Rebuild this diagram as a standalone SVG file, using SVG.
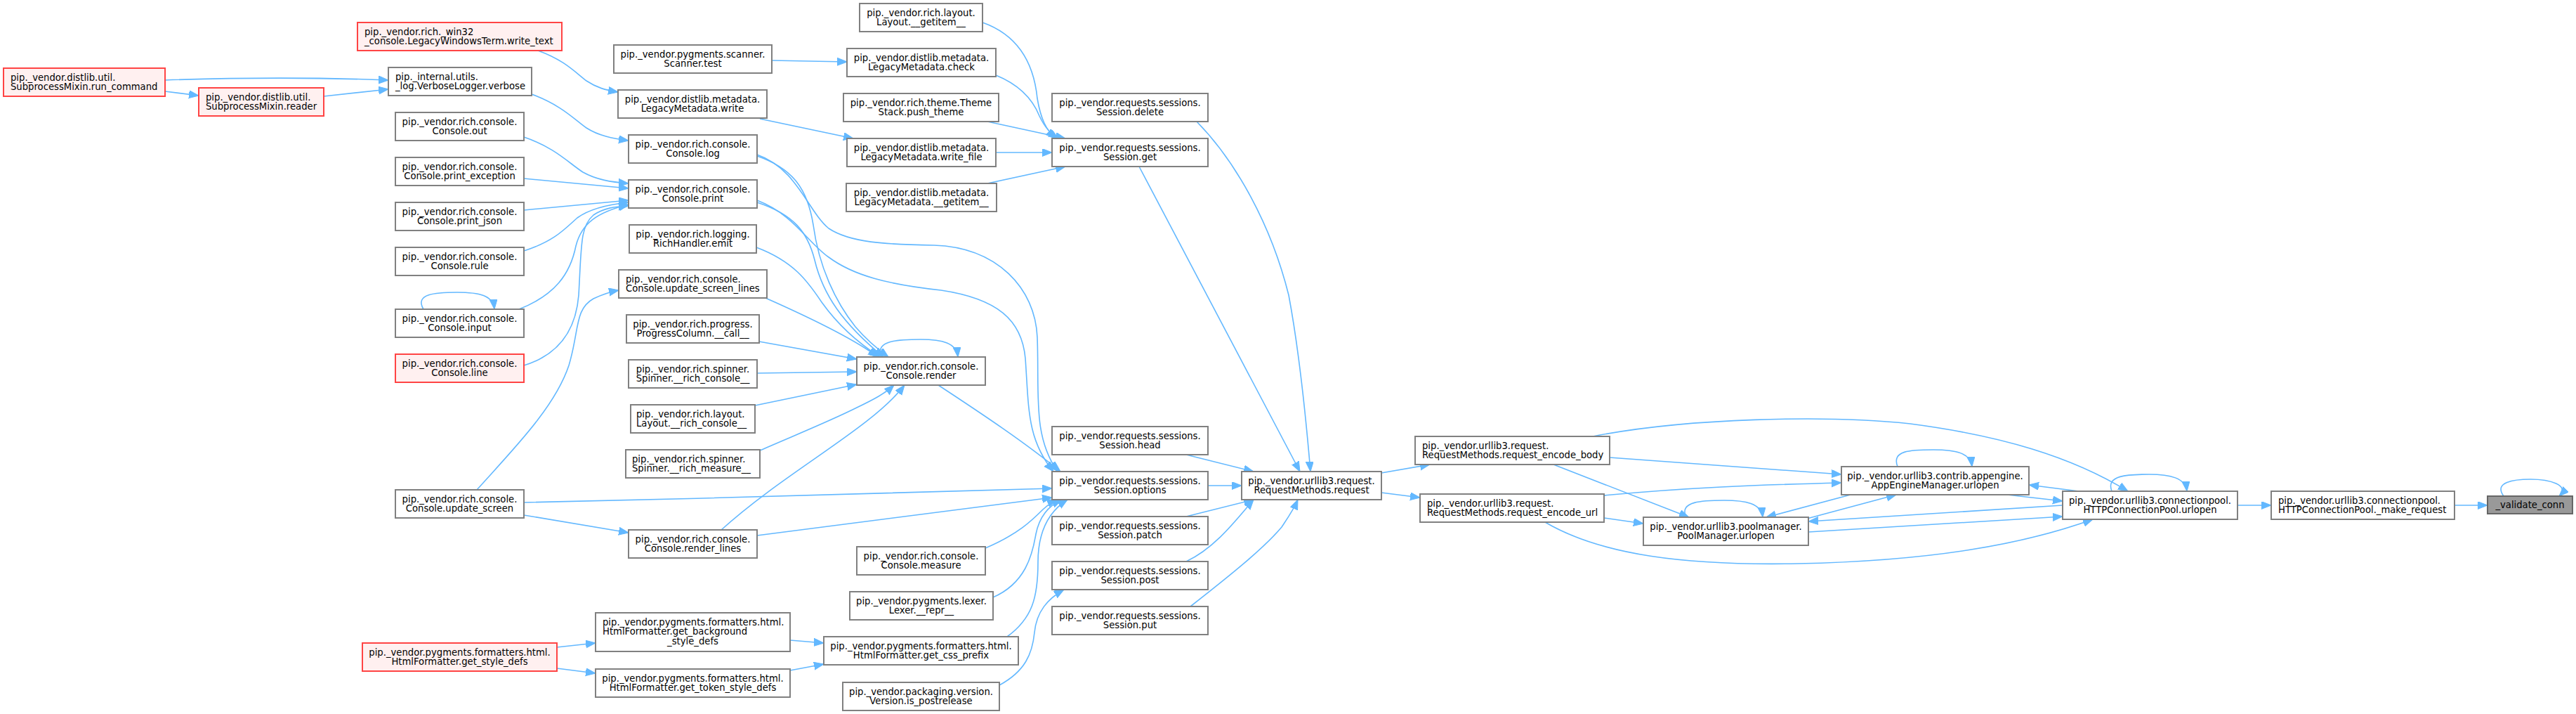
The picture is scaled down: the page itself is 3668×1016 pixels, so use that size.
<svg xmlns="http://www.w3.org/2000/svg" width="3668" height="1016" viewBox="0 0 3668 1016">
<style>
.w rect{fill:#ffffff;stroke:#808080;stroke-width:2}
.r rect{fill:#fff0f0;stroke:#ff4444;stroke-width:2}
.g rect{fill:#999999;stroke:#666666;stroke-width:2}
text{font-family:"DejaVu Sans","Liberation Sans",sans-serif;font-size:13.2px;fill:#000}
.c{text-anchor:middle}
.l{text-anchor:start}
#edges path{fill:none;stroke:#63b8ff;stroke-width:1.6;marker-end:url(#ah)}
</style>
<defs>
<marker id="ah" markerUnits="userSpaceOnUse" markerWidth="15" markerHeight="12" refX="14" refY="5.5" orient="auto"><path d="M0,0 L14,5.5 L0,11 z" fill="#63b8ff" stroke="#63b8ff" stroke-width="1"/></marker>
</defs>
<rect x="0" y="0" width="3668" height="1016" fill="#ffffff"/>
<g id="edges">
<path d="M235,114 C350,110 450,110 553,114"/>
<path d="M235,130 L283,136"/>
<path d="M461,137 L553,127"/>
<path d="M766,72 C805,86 820,104 835,115 C850,125 862,128 880,131"/>
<path d="M757,134 C800,150 818,170 835,182 C852,193 872,197 895,200"/>
<path d="M746,195 C790,210 810,232 830,245 C850,256 870,259 895,261"/>
<path d="M746,254 L895,268"/>
<path d="M746,299 L895,285"/>
<path d="M746,357 C790,343 805,325 822,310 C840,297 865,291 895,288"/>
<path d="M739,440 C790,420 812,390 820,350 C828,318 850,302 895,291"/>
<path d="M746,520 C795,505 820,470 824,420 C828,350 826,322 845,306 C860,296 875,294 895,293"/>
<path d="M679,697 C730,640 790,580 810,520 C825,470 818,440 845,425 C860,418 870,415 881,413"/>
<path d="M746,715 C1000,710 1300,700 1498,695"/>
<path d="M746,733 L895,758"/>
<path d="M1078,220 C1135,240 1150,300 1180,325 C1210,345 1260,348 1330,349 C1420,352 1474,410 1477,480 C1480,560 1470,620 1506,671"/>
<path d="M1078,285 C1130,305 1150,345 1180,366 C1215,392 1265,405 1340,413 C1420,425 1455,455 1460,510 C1465,580 1462,625 1500,671"/>
<path d="M1078,222 C1130,240 1150,270 1158,320 C1166,380 1190,430 1218,465 C1235,485 1250,497 1265,508"/>
<path d="M1078,288 C1130,305 1150,330 1160,370 C1172,420 1200,460 1258,508"/>
<path d="M1077,352 C1130,372 1150,400 1170,430 C1195,465 1225,490 1253,508"/>
<path d="M1090,424 C1160,455 1220,485 1250,508"/>
<path d="M1081,486 L1220,511"/>
<path d="M1078,531 L1220,529"/>
<path d="M1075,577 L1220,547"/>
<path d="M1082,641 C1130,620 1180,600 1220,580 C1245,568 1260,560 1273,548"/>
<path d="M1027,754 C1120,670 1240,610 1288,548"/>
<path d="M1078,762 L1498,708"/>
<path d="M1336,548 C1400,590 1460,630 1510,671"/>
<path d="M1403,780 C1450,760 1470,740 1485,725 C1495,716 1500,713 1505,711"/>
<path d="M1414,850 C1460,830 1470,790 1475,760 C1480,735 1492,720 1512,711"/>
<path d="M1434,906 C1470,880 1478,850 1478,800 C1478,760 1490,730 1520,711"/>
<path d="M1423,975 C1460,955 1470,930 1473,900 C1476,870 1492,852 1515,839"/>
<path d="M1125,911 L1173,915"/>
<path d="M1125,954 L1173,945"/>
<path d="M793,921 L848,915"/>
<path d="M793,951 L848,958"/>
<path d="M1099,86 L1206,88"/>
<path d="M1082,169 L1215,197"/>
<path d="M1399,32 C1450,50 1472,90 1477,140 C1482,170 1490,185 1503,197"/>
<path d="M1418,107 C1450,120 1470,140 1480,165 C1488,182 1496,190 1507,197"/>
<path d="M1406,173 L1517,197"/>
<path d="M1418,217 L1498,217"/>
<path d="M1406,261 L1517,237"/>
<path d="M1704,173 C1760,230 1810,320 1835,420 C1850,500 1860,600 1866,671"/>
<path d="M1622,237 L1851,671"/>
<path d="M1689,647 L1785,671"/>
<path d="M1720,691 L1768,691"/>
<path d="M1689,735 L1785,711"/>
<path d="M1689,799 C1730,780 1760,740 1785,711"/>
<path d="M1695,863 C1750,820 1800,780 1825,750 C1835,735 1842,725 1848,711"/>
<path d="M1967,673 L2036,661"/>
<path d="M1967,701 L2022,708"/>
<path d="M2292,651 L2622,675"/>
<path d="M2212,661 L2405,736"/>
<path d="M2268,621 C2400,595 2600,590 2720,603 C2850,620 2950,650 3030,699"/>
<path d="M2284,705 C2400,694 2500,690 2622,687"/>
<path d="M2284,737 L2340,745"/>
<path d="M2200,743 C2280,790 2400,805 2560,802 C2750,798 2880,775 2980,739"/>
<path d="M2635,704 L2515,736"/>
<path d="M2573,738 L2700,704"/>
<path d="M2858,704 L2937,713"/>
<path d="M2960,699 L2889,690"/>
<path d="M2937,719 L2575,742"/>
<path d="M2575,757 L2937,735"/>
<path d="M3186,719 L3234,719"/>
<path d="M3495,719 L3542,719"/>
<path d="M603,440 C590,418 620,416 651,416 C682,416 702,420 704,440"/>
<path d="M1255,508 C1245,484 1280,483 1311,483 C1342,483 1362,488 1364,508"/>
<path d="M2401,736 C2390,713 2425,712 2455,712 C2485,712 2508,716 2510,736"/>
<path d="M2702,664 C2693,641 2720,640 2753,640 C2786,640 2806,645 2808,664"/>
<path d="M3007,699 C2998,676 3030,675 3060,675 C3090,675 3112,680 3114,699"/>
<path d="M3565,706 C3550,686 3580,682 3603,682 C3630,682 3660,690 3644,706"/>
</g>
<g id="n_write_text" class="r"><rect x="509" y="32" width="291" height="40"/><text class="l" x="519" y="49.5">pip._vendor.rich._win32</text><text class="l" x="519" y="63">_console.LegacyWindowsTerm.write_text</text></g>
<g id="n_run_command" class="r"><rect x="5" y="97" width="230" height="40"/><text class="l" x="15" y="114.5">pip._vendor.distlib.util.</text><text class="l" x="15" y="128">SubprocessMixin.run_command</text></g>
<g id="n_reader" class="r"><rect x="283" y="125" width="178" height="40"/><text class="l" x="293" y="142.5">pip._vendor.distlib.util.</text><text class="l" x="293" y="156">SubprocessMixin.reader</text></g>
<g id="n_verbose" class="w"><rect x="553" y="96" width="204" height="40"/><text class="l" x="563" y="113.5">pip._internal.utils.</text><text class="l" x="563" y="127">_log.VerboseLogger.verbose</text></g>
<g id="n_out" class="w"><rect x="563" y="160" width="183" height="40"/><text class="c" x="654.5" y="177.5">pip._vendor.rich.console.</text><text class="c" x="654.5" y="191">Console.out</text></g>
<g id="n_print_exception" class="w"><rect x="563" y="224" width="183" height="40"/><text class="c" x="654.5" y="241.5">pip._vendor.rich.console.</text><text class="c" x="654.5" y="255">Console.print_exception</text></g>
<g id="n_print_json" class="w"><rect x="563" y="288" width="183" height="40"/><text class="c" x="654.5" y="305.5">pip._vendor.rich.console.</text><text class="c" x="654.5" y="319">Console.print_json</text></g>
<g id="n_rule" class="w"><rect x="563" y="352" width="183" height="40"/><text class="c" x="654.5" y="369.5">pip._vendor.rich.console.</text><text class="c" x="654.5" y="383">Console.rule</text></g>
<g id="n_input" class="w"><rect x="563" y="440" width="183" height="40"/><text class="c" x="654.5" y="457.5">pip._vendor.rich.console.</text><text class="c" x="654.5" y="471">Console.input</text></g>
<g id="n_line" class="r"><rect x="563" y="504" width="183" height="40"/><text class="c" x="654.5" y="521.5">pip._vendor.rich.console.</text><text class="c" x="654.5" y="535">Console.line</text></g>
<g id="n_update_screen" class="w"><rect x="563" y="697" width="183" height="40"/><text class="c" x="654.5" y="714.5">pip._vendor.rich.console.</text><text class="c" x="654.5" y="728">Console.update_screen</text></g>
<g id="n_get_style_defs" class="r"><rect x="516" y="915" width="277" height="40"/><text class="c" x="654.5" y="932.5">pip._vendor.pygments.formatters.html.</text><text class="c" x="654.5" y="946">HtmlFormatter.get_style_defs</text></g>
<g id="n_scanner_test" class="w"><rect x="874" y="64" width="225" height="40"/><text class="c" x="986.5" y="81.5">pip._vendor.pygments.scanner.</text><text class="c" x="986.5" y="95">Scanner.test</text></g>
<g id="n_lm_write" class="w"><rect x="880" y="128" width="212" height="40"/><text class="c" x="986" y="145.5">pip._vendor.distlib.metadata.</text><text class="c" x="986" y="159">LegacyMetadata.write</text></g>
<g id="n_log" class="w"><rect x="895" y="192" width="183" height="40"/><text class="c" x="986.5" y="209.5">pip._vendor.rich.console.</text><text class="c" x="986.5" y="223">Console.log</text></g>
<g id="n_print" class="w"><rect x="895" y="256" width="183" height="40"/><text class="c" x="986.5" y="273.5">pip._vendor.rich.console.</text><text class="c" x="986.5" y="287">Console.print</text></g>
<g id="n_emit" class="w"><rect x="896" y="320" width="181" height="40"/><text class="c" x="986.5" y="337.5">pip._vendor.rich.logging.</text><text class="c" x="986.5" y="351">RichHandler.emit</text></g>
<g id="n_update_screen_lines" class="w"><rect x="881" y="384" width="211" height="40"/><text class="l" x="891" y="401.5">pip._vendor.rich.console.</text><text class="l" x="891" y="415">Console.update_screen_lines</text></g>
<g id="n_progress_call" class="w"><rect x="892" y="448" width="189" height="40"/><text class="c" x="986.5" y="465.5">pip._vendor.rich.progress.</text><text class="c" x="986.5" y="479">ProgressColumn.__call__</text></g>
<g id="n_spinner_rc" class="w"><rect x="895" y="512" width="183" height="40"/><text class="c" x="986.5" y="529.5">pip._vendor.rich.spinner.</text><text class="c" x="986.5" y="543">Spinner.__rich_console__</text></g>
<g id="n_layout_rc" class="w"><rect x="898" y="576" width="177" height="40"/><text class="l" x="906" y="593.5">pip._vendor.rich.layout.</text><text class="l" x="906" y="607">Layout.__rich_console__</text></g>
<g id="n_spinner_rm" class="w"><rect x="891" y="640" width="191" height="40"/><text class="l" x="900" y="657.5">pip._vendor.rich.spinner.</text><text class="l" x="900" y="671">Spinner.__rich_measure__</text></g>
<g id="n_render_lines" class="w"><rect x="895" y="754" width="183" height="40"/><text class="c" x="986.5" y="771.5">pip._vendor.rich.console.</text><text class="c" x="986.5" y="785">Console.render_lines</text></g>
<g id="n_bg_style_defs" class="w"><rect x="848" y="872" width="277" height="55"/><text class="l" x="858" y="889.5">pip._vendor.pygments.formatters.html.</text><text class="l" x="858" y="903">HtmlFormatter.get_background</text><text class="c" x="986.5" y="916.5">_style_defs</text></g>
<g id="n_token_style_defs" class="w"><rect x="848" y="952" width="277" height="40"/><text class="c" x="986.5" y="969.5">pip._vendor.pygments.formatters.html.</text><text class="c" x="986.5" y="983">HtmlFormatter.get_token_style_defs</text></g>
<g id="n_layout_getitem" class="w"><rect x="1224" y="5" width="175" height="40"/><text class="c" x="1311.5" y="22.5">pip._vendor.rich.layout.</text><text class="c" x="1311.5" y="36">Layout.__getitem__</text></g>
<g id="n_lm_check" class="w"><rect x="1206" y="69" width="212" height="40"/><text class="c" x="1312" y="86.5">pip._vendor.distlib.metadata.</text><text class="c" x="1312" y="100">LegacyMetadata.check</text></g>
<g id="n_push_theme" class="w"><rect x="1201" y="133" width="221" height="40"/><text class="c" x="1311.5" y="150.5">pip._vendor.rich.theme.Theme</text><text class="c" x="1311.5" y="164">Stack.push_theme</text></g>
<g id="n_lm_write_file" class="w"><rect x="1206" y="197" width="212" height="40"/><text class="c" x="1312" y="214.5">pip._vendor.distlib.metadata.</text><text class="c" x="1312" y="228">LegacyMetadata.write_file</text></g>
<g id="n_lm_getitem" class="w"><rect x="1205" y="261" width="214" height="40"/><text class="c" x="1312" y="278.5">pip._vendor.distlib.metadata.</text><text class="c" x="1312" y="292">LegacyMetadata.__getitem__</text></g>
<g id="n_render" class="w"><rect x="1220" y="508" width="183" height="40"/><text class="c" x="1311.5" y="525.5">pip._vendor.rich.console.</text><text class="c" x="1311.5" y="539">Console.render</text></g>
<g id="n_measure" class="w"><rect x="1220" y="778" width="183" height="40"/><text class="c" x="1311.5" y="795.5">pip._vendor.rich.console.</text><text class="c" x="1311.5" y="809">Console.measure</text></g>
<g id="n_lexer_repr" class="w"><rect x="1210" y="842" width="204" height="40"/><text class="c" x="1312" y="859.5">pip._vendor.pygments.lexer.</text><text class="c" x="1312" y="873">Lexer.__repr__</text></g>
<g id="n_css_prefix" class="w"><rect x="1173" y="906" width="277" height="40"/><text class="c" x="1311.5" y="923.5">pip._vendor.pygments.formatters.html.</text><text class="c" x="1311.5" y="937">HtmlFormatter.get_css_prefix</text></g>
<g id="n_is_postrelease" class="w"><rect x="1200" y="971" width="223" height="40"/><text class="c" x="1311.5" y="988.5">pip._vendor.packaging.version.</text><text class="c" x="1311.5" y="1002">Version.is_postrelease</text></g>
<g id="n_delete" class="w"><rect x="1498" y="133" width="222" height="40"/><text class="c" x="1609" y="150.5">pip._vendor.requests.sessions.</text><text class="c" x="1609" y="164">Session.delete</text></g>
<g id="n_get" class="w"><rect x="1498" y="197" width="222" height="40"/><text class="c" x="1609" y="214.5">pip._vendor.requests.sessions.</text><text class="c" x="1609" y="228">Session.get</text></g>
<g id="n_head" class="w"><rect x="1498" y="607" width="222" height="40"/><text class="c" x="1609" y="624.5">pip._vendor.requests.sessions.</text><text class="c" x="1609" y="638">Session.head</text></g>
<g id="n_options" class="w"><rect x="1498" y="671" width="222" height="40"/><text class="c" x="1609" y="688.5">pip._vendor.requests.sessions.</text><text class="c" x="1609" y="702">Session.options</text></g>
<g id="n_patch" class="w"><rect x="1498" y="735" width="222" height="40"/><text class="c" x="1609" y="752.5">pip._vendor.requests.sessions.</text><text class="c" x="1609" y="766">Session.patch</text></g>
<g id="n_post" class="w"><rect x="1498" y="799" width="222" height="40"/><text class="c" x="1609" y="816.5">pip._vendor.requests.sessions.</text><text class="c" x="1609" y="830">Session.post</text></g>
<g id="n_put" class="w"><rect x="1498" y="863" width="222" height="40"/><text class="c" x="1609" y="880.5">pip._vendor.requests.sessions.</text><text class="c" x="1609" y="894">Session.put</text></g>
<g id="n_request" class="w"><rect x="1768" y="671" width="199" height="40"/><text class="c" x="1867.5" y="688.5">pip._vendor.urllib3.request.</text><text class="c" x="1867.5" y="702">RequestMethods.request</text></g>
<g id="n_encode_body" class="w"><rect x="2015" y="621" width="277" height="40"/><text class="l" x="2025" y="638.5">pip._vendor.urllib3.request.</text><text class="l" x="2025" y="652">RequestMethods.request_encode_body</text></g>
<g id="n_encode_url" class="w"><rect x="2022" y="703" width="262" height="40"/><text class="l" x="2032" y="720.5">pip._vendor.urllib3.request.</text><text class="l" x="2032" y="734">RequestMethods.request_encode_url</text></g>
<g id="n_poolmanager_urlopen" class="w"><rect x="2340" y="736" width="235" height="40"/><text class="c" x="2457.5" y="753.5">pip._vendor.urllib3.poolmanager.</text><text class="c" x="2457.5" y="767">PoolManager.urlopen</text></g>
<g id="n_appengine_urlopen" class="w"><rect x="2622" y="664" width="267" height="40"/><text class="c" x="2755.5" y="681.5">pip._vendor.urllib3.contrib.appengine.</text><text class="c" x="2755.5" y="695">AppEngineManager.urlopen</text></g>
<g id="n_cp_urlopen" class="w"><rect x="2937" y="699" width="249" height="40"/><text class="c" x="3061.5" y="716.5">pip._vendor.urllib3.connectionpool.</text><text class="c" x="3061.5" y="730">HTTPConnectionPool.urlopen</text></g>
<g id="n_make_request" class="w"><rect x="3234" y="699" width="261" height="40"/><text class="l" x="3244" y="716.5">pip._vendor.urllib3.connectionpool.</text><text class="l" x="3244" y="730">HTTPConnectionPool._make_request</text></g>
<g id="n_validate_conn" class="g"><rect x="3542" y="706" width="121" height="25"/><text class="c" x="3602.5" y="723">_validate_conn</text></g>
</svg>
